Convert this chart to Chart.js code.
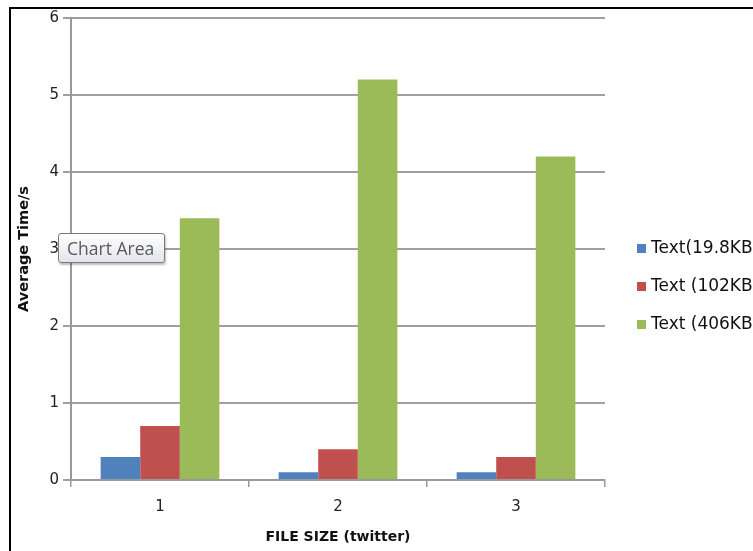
<!DOCTYPE html>
<html>
<head>
<meta charset="utf-8">
<script src="https://cdn.jsdelivr.net/npm/chart.js@4"></script>
<style>
  html, body { margin:0; padding:0; background:#fff; overflow:hidden; }
  #wrap { position:relative; width:753px; height:551px; overflow:hidden; }
  canvas { position:absolute; left:0; top:0; }
  #frame { position:absolute; left:9px; top:7px; width:800px; height:542px; border-left:2px solid #000; border-top:2px solid #000; pointer-events:none; }
  #tip { position:absolute; left:58px; top:233px; width:97px; height:28px; border:1px solid #7a7a7a; border-radius:3px;
         background:linear-gradient(#ffffff, #e3e4ee); box-shadow:1px 2px 2px rgba(0,0,0,0.25);
         font-family:"Open Sans","Noto Sans",sans-serif; font-size:17.5px; line-height:28px; color:#5a5a5a; padding-left:8px; box-sizing:content-box; white-space:nowrap; }
</style>
</head>
<body>
<div id="wrap">
  <canvas id="c" width="753" height="551"></canvas>
  <div id="frame"></div>
  <div id="tip">Chart Area</div>
</div>
<script>
const categories = ['1', '2', '3'];
const seriesNames = ['Text(19.8KB)', 'Text (102KB)', 'Text (406KB)'];
const text198 = [0.3, 0.1, 0.1];
const text102 = [0.7, 0.4, 0.3];
const text406 = [3.4, 5.2, 4.2];
const colors = ['#4F81BD', '#C0504D', '#9BBB59'];

const FONT = '"DejaVu Sans", Verdana, sans-serif';

const legendPlugin = {
  id: 'sideLegend',
  afterDraw(chart) {
    const ctx = chart.ctx;
    const area = chart.chartArea;
    const x0 = area.right + 32;
    const yMid = (area.top + area.bottom) / 2 + 38;
    ctx.save();
    ctx.font = '17px ' + FONT;
    ctx.textBaseline = 'middle';
    chart.data.datasets.forEach((ds, i) => {
      const y = yMid + (i - 1) * 38;
      ctx.fillStyle = ds.backgroundColor;
      ctx.fillRect(x0, y - 5, 9, 9);
      ctx.fillStyle = '#111';
      ctx.fillText(ds.label, x0 + 14, y);
    });
    ctx.restore();
  }
};

new Chart(document.getElementById('c'), {
  type: 'bar',
  data: {
    labels: categories,
    datasets: [
      { label: seriesNames[0], data: text198, backgroundColor: colors[0] },
      { label: seriesNames[1], data: text102, backgroundColor: colors[1] },
      { label: seriesNames[2], data: text406, backgroundColor: colors[2] }
    ]
  },
  options: {
    responsive: false,
    animation: false,
    events: [],
    layout: { padding: { left: 0, top: 18, right: 148, bottom: 0 } },
    datasets: { bar: { categoryPercentage: 0.667, barPercentage: 1.0 } },
    plugins: { legend: { display: false }, tooltip: { enabled: false } },
    scales: {
      x: {
        grid: { drawOnChartArea: false, offset: true, tickLength: 7, color: '#999', lineWidth: 1.5 },
        border: { color: '#999', width: 2 },
        ticks: { color: '#222', font: { family: FONT, size: 15 }, padding: 11 },
        title: { display: true, text: 'FILE SIZE (twitter)', color: '#111',
                 font: { family: FONT, size: 14, weight: 'bold' },
                 padding: { top: 4, bottom: 5 } },
        afterFit(scale) { scale.height = 71; }
      },
      y: {
        min: 0, max: 6,
        ticks: { stepSize: 1, color: '#222', font: { family: FONT, size: 15 }, padding: 4 },
        grid: { color: '#a0a0a0', lineWidth: 2, tickLength: 8 },
        border: { color: '#999', width: 2 },
        title: { display: true, text: 'Average Time/s', color: '#111',
                 font: { family: FONT, size: 14.5, weight: 'bold' },
                 padding: { top: 16, bottom: 4 } },
        afterFit(scale) { scale.width = 71; }
      }
    }
  },
  plugins: [legendPlugin]
});
</script>
</body>
</html>
